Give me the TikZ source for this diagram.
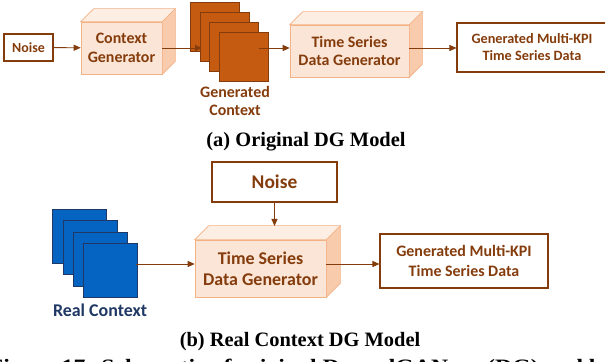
\documentclass[tikz,border=0pt]{standalone}
\usepackage{fontspec}
\setmainfont{Liberation Serif}
\newfontfamily\carlito{Carlito}
\usetikzlibrary{arrows.meta}
\definecolor{dgbrown}{HTML}{843C0C}
\definecolor{dgorange}{HTML}{C55A11}
\definecolor{dgfront}{HTML}{FBE5D6}
\definecolor{dgtop}{HTML}{FDEEE4}
\definecolor{dgside}{HTML}{F8CBAD}
\definecolor{dgedge}{HTML}{F4B183}
\definecolor{dgblue}{HTML}{0563C1}
\definecolor{dgnavy}{HTML}{1F3864}
\tikzset{
  outbox/.style={draw=dgbrown,line width=1.1bp,fill=white,text=dgbrown,align=center,inner sep=0pt},
  front/.style={draw=dgedge,line width=0.6bp,fill=dgfront,text=dgbrown,align=center,inner sep=0pt},
  topface/.style={draw=dgedge,line width=0.6bp,fill=dgtop},
  sideface/.style={draw=dgedge,line width=0.6bp,fill=dgside},
  ctxsq/.style={draw=dgbrown,line width=0.8bp,fill=dgorange,minimum size=49bp,inner sep=0pt},
  realsq/.style={draw=dgnavy,line width=0.8bp,fill=dgblue,minimum size=54bp,inner sep=0pt},
  flow/.style={draw=dgbrown,line width=0.9bp,-{Triangle[length=7bp,width=6bp]}}
}
\begin{document}
\begin{tikzpicture}
  \useasboundingbox (0bp,0bp) rectangle (605bp,362bp);
  %% (a) original DG model
  \node (Noise) at (28.5bp,314.5bp) [outbox,minimum width=49bp,minimum height=27bp,font=\carlito\bfseries\fontsize{14}{17}\selectfont] {Noise};
  \node (CtxGen) at (121.5bp,314bp) [front,minimum width=81bp,minimum height=52bp,font=\carlito\bfseries\fontsize{16}{19}\selectfont] {Context\\Generator};
  \draw [topface] (CtxGen.north west) -- ++(13bp,13bp) -- ([shift={(13bp,13bp)}]CtxGen.north east) -- (CtxGen.north east) -- cycle;
  \draw [sideface] (CtxGen.north east) -- ([shift={(13bp,13bp)}]CtxGen.north east) -- ([shift={(13bp,13bp)}]CtxGen.south east) -- (CtxGen.south east) -- cycle;
  \node (Gen1) at (215bp,335.5bp) [ctxsq] {};
  \draw [flow] (CtxGen.east) -- (202bp,314bp);
  \node (Gen2) at (224.5bp,325.5bp) [ctxsq] {};
  \node (Gen3) at (234bp,315.5bp) [ctxsq] {};
  \node (Gen4) at (243.5bp,305.5bp) [ctxsq] {};
  \coordinate (GenOut) at (259bp,314bp);
  \node (GenLbl) at (235bp,261bp) [text=dgbrown,align=center,font=\carlito\bfseries\fontsize{16}{18}\selectfont] {Generated\\Context};
  \node (TSGen) at (349.5bp,311bp) [front,minimum width=119bp,minimum height=52bp,font=\carlito\bfseries\fontsize{16}{19}\selectfont] {Time Series\\Data Generator};
  \draw [topface] (TSGen.north west) -- ++(13bp,13bp) -- ([shift={(13bp,13bp)}]TSGen.north east) -- (TSGen.north east) -- cycle;
  \draw [sideface] (TSGen.north east) -- ([shift={(13bp,13bp)}]TSGen.north east) -- ([shift={(13bp,13bp)}]TSGen.south east) -- (TSGen.south east) -- cycle;
  \node (Out) at (532bp,314.5bp) [outbox,minimum width=150bp,minimum height=49bp,font=\carlito\bfseries\fontsize{14.3}{17}\selectfont] {Generated Multi-KPI\\Time Series Data};
  \draw [flow] (Noise) -- (CtxGen);
  \draw [flow] (GenOut) -- (GenOut -| TSGen.west);
  \draw [flow] (TSGen.east |- GenOut) -- (Out.west |- GenOut);
  \node (CapA) at (306bp,220bp) [font=\bfseries\fontsize{20.5}{24}\selectfont] {(a) Original DG Model};
  %% (b) real context DG model
  \node (NoiseB) at (274.5bp,180bp) [outbox,minimum width=125bp,minimum height=40bp,font=\carlito\bfseries\fontsize{19.5}{23}\selectfont] {Noise};
  \node (TSGenB) at (260.5bp,93.5bp) [front,minimum width=131bp,minimum height=57bp,font=\carlito\bfseries\fontsize{18}{21}\selectfont] {Time Series\\Data Generator};
  \draw [topface] (TSGenB.north west) -- ++(14bp,14bp) -- ([shift={(14bp,14bp)}]TSGenB.north east) -- (TSGenB.north east) -- cycle;
  \draw [sideface] (TSGenB.north east) -- ([shift={(14bp,14bp)}]TSGenB.north east) -- ([shift={(14bp,14bp)}]TSGenB.south east) -- (TSGenB.south east) -- cycle;
  \coordinate (TSGenBTop) at (274.5bp,136bp);
  \node (Real1) at (79.5bp,125.5bp) [realsq] {};
  \node (Real2) at (90bp,114.5bp) [realsq] {};
  \node (Real3) at (100.5bp,103bp) [realsq] {};
  \node (Real4) at (110.5bp,92bp) [realsq] {};
  \coordinate (RealOut) at (136bp,98bp);
  \node (RealLbl) at (100bp,52bp) [text=dgnavy,font=\carlito\bfseries\fontsize{18}{21}\selectfont] {Real Context};
  \node (OutB) at (464bp,101bp) [outbox,minimum width=168bp,minimum height=54bp,font=\carlito\bfseries\fontsize{16}{20}\selectfont] {Generated Multi-KPI\\Time Series Data};
  \draw [flow] (NoiseB) -- (TSGenBTop);
  \draw [flow] (RealOut) -- (RealOut -| TSGenB.west);
  \draw [flow] (TSGenB.east |- RealOut) -- (OutB.west |- RealOut);
  \node (CapB) at (300bp,20bp) [font=\bfseries\fontsize{20.5}{24}\selectfont] {(b) Real Context DG Model};
  \node (Fig) at (-11.5bp,-11bp) [anchor=base west,inner sep=0pt,transform shape,xscale=1.165,font=\bfseries\fontsize{20.5}{24}\selectfont] {Figure 17: Schematic of original DoppelGANger (DG) and b};
  %
\end{tikzpicture}
\end{document}
